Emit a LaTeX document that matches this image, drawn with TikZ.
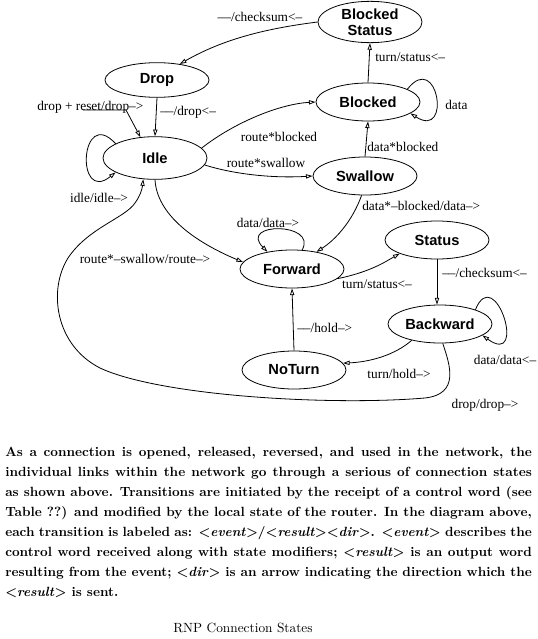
\documentclass[tikz,border=0pt]{standalone}
\usepackage{fontspec}
\usepackage{tikz}
\usetikzlibrary{shapes.geometric,arrows.meta}
\newfontfamily\statefont{Liberation Sans}
\newfontfamily\lblfont{Liberation Serif}

\begin{document}
\begin{tikzpicture}[x=0.75pt, y=-0.75pt,
  state/.style={ellipse, draw, line width=0.6pt, minimum width=78pt,
    minimum height=28.5pt, inner sep=0pt, align=center,
    font=\statefont\bfseries\fontsize{11}{12}\selectfont},
  lbl/.style={font=\lblfont\fontsize{10}{12}\selectfont, inner sep=0pt},
  arr/.style={-{Triangle[open, length=5pt, width=3.2pt]}, line width=0.6pt},
  para/.style={text width=395pt, align=justify, inner sep=0pt,
    font=\fontsize{10}{15}\selectfont\bfseries\boldmath}]
  \useasboundingbox (0,0) rectangle (537,639);

  % states
  \node[state, minimum height=31pt, inner sep=-1.5pt] (bstat) at (370,22) {Blocked\\Status};
  \node[state, minimum height=26pt] (drop) at (157,80) {Drop};
  \node[state] (blocked) at (368,102) {Blocked};
  \node[state, minimum height=32pt] (idle) at (155,158) {Idle};
  \node[state] (swallow) at (365,176) {Swallow};
  \node[state] (status) at (437,240) {Status};
  \node[state] (forward) at (292,269) {Forward};
  \node[state] (backward) at (440,324) {Backward};
  \node[state] (noturn) at (294,370) {NoTurn};

  % transitions
  \draw[arr] (bstat.west) .. controls (270,28) and (225,38) .. (drop.35);
  \node[lbl] (lchk) at (260,17) {––/checksum<–};

  \draw[arr] (blocked.north) -- (bstat.south);
  \node[lbl, anchor=west] (lturn) at (375,57) {turn/status<–};

  \draw[arr] (blocked.18) .. controls (438,50) and (452,140) .. (blocked.-15);
  \node[lbl, anchor=west] (ldata) at (445,105) {data};

  \draw[arr] (drop.south) -- (idle.north);
  \node[lbl, anchor=west] (ldrop) at (160,112) {––/drop<–};

  \coordinate (rst) at (83,110);
  \draw[arr] (rst) -- (126,110) -- (idle.125);
  \node[lbl, anchor=base west] (lreset) at (37,110) {drop + reset/drop–>};

  \draw[arr] (idle.160) .. controls (80,105) and (75,205) .. (idle.200);
  \node[lbl] (lidle) at (99,198) {idle/idle–>};

  \draw[arr] (idle.12) .. controls (235,122) and (280,104) .. (blocked.west);
  \node[lbl] (lrb) at (279,137) {route*blocked};

  \draw[arr] (idle.-8) .. controls (240,176) and (280,178) .. (swallow.west);
  \node[lbl] (lrs) at (266,163) {route*swallow};

  \draw[arr] (swallow.north) -- (blocked.south);
  \node[lbl, anchor=west] (ldb) at (367,147) {data*blocked};

  \draw[arr] (swallow.-100) .. controls (352,222) and (335,240) .. (forward.35);
  \node[lbl, anchor=west] (ldnb) at (362,206) {data*–blocked/data–>};

  \draw[arr] (forward.62) .. controls (318,222) and (238,222) .. (forward.145);
  \node[lbl] (ldd) at (268,223) {data/data–>};

  \draw[arr] (idle.-90) .. controls (157,215) and (195,242) .. (forward.172);
  \node[lbl] (lrsr) at (145,259) {route*–swallow/route–>};

  \draw[arr] (forward.-12) .. controls (370,272) and (385,262) .. (status.200);
  \node[lbl] (lts) at (377,284) {turn/status<–};

  \draw[arr] (status.south) -- (status.south |- backward.north);
  \node[lbl, anchor=west] (lck2) at (442,273) {––/checksum<–};

  \draw[arr] (backward.22) .. controls (495,262) and (528,368) .. (backward.-15);
  \node[lbl] (ldd2) at (505,360) {data/data<–};

  \draw[arr] (backward.210) .. controls (395,355) and (370,362) .. (noturn.8);
  \node[lbl] (lth) at (399,374) {turn/hold–>};

  \draw[arr] (noturn.north) -- (forward.south);
  \node[lbl, anchor=west] (lhold) at (297,328) {––/hold–>};

  \draw[arr] (backward.-82) .. controls (450,365) and (460,394) .. (425,398)
    .. controls (330,406) and (160,396) .. (100,368)
    .. controls (55,345) and (48,290) .. (68,258)
    .. controls (88,228) and (125,218) .. (135,203)
    .. controls (140,196) and (142,190) .. (idle.-119);
  \node[lbl] (ldrop2) at (485,405) {drop/drop–>};

  % caption text
  \node[para, anchor=north west] (desc) at (5,447) {As a connection is opened,
    released, reversed, and used in the network, the\linebreak individual links
    within the network go through a serious of connection states\linebreak as
    shown above. Transitions are initiated by the receipt of a control word
    (see\linebreak Table ??) and modified by the local state of the router. In
    the diagram above,\linebreak each transition is labeled as:
    $<$\textit{event}$>$$/$$<$\textit{result}$>$$<$\textit{dir}$>$.
    $<$\textit{event}$>$ describes the\linebreak control word received along
    with state modifiers; $<$\textit{result}$>$ is an output word\linebreak
    resulting from the event; $<$\textit{dir}$>$ is an arrow indicating the
    direction which the\linebreak $<$\textit{result}$>$ is sent.};
  \node[font=\fontsize{10}{12}\selectfont] (title) at (243,628) {RNP Connection States};
\end{tikzpicture}
\end{document}
